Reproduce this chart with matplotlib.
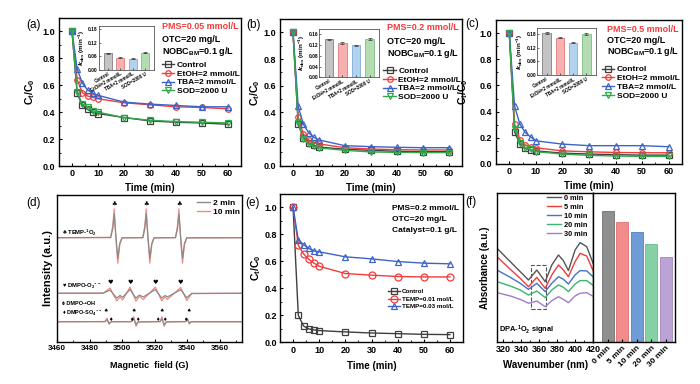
import matplotlib
matplotlib.use("Agg")
import matplotlib.pyplot as plt
from matplotlib.patches import Rectangle
from matplotlib.lines import Line2D
from matplotlib.ticker import MultipleLocator, FormatStrFormatter
import numpy as np

plt.rcParams['font.family'] = ['Liberation Sans', 'DejaVu Sans']
plt.rcParams['font.weight'] = 'bold'
plt.rcParams['axes.labelweight'] = 'bold'
plt.rcParams['mathtext.default'] = 'regular'
plt.rcParams['xtick.direction'] = 'in'
plt.rcParams['ytick.direction'] = 'in'
plt.rcParams['axes.linewidth'] = 1.0

# ---- data: degradation kinetics (a-c, e) ----
time = [0, 2, 4, 6, 8, 10, 20, 30, 40, 50, 60]
series_names = ["Control", "EtOH=2 mmol/L", "TBA=2 mmol/L", "SOD=2000 U"]

a_control = [1.0, 0.54, 0.45, 0.42, 0.40, 0.39, 0.36, 0.335, 0.325, 0.32, 0.31]
a_etoh = [1.0, 0.64, 0.545, 0.52, 0.51, 0.50, 0.47, 0.455, 0.44, 0.435, 0.425]
a_tba = [1.0, 0.72, 0.615, 0.565, 0.54, 0.525, 0.475, 0.46, 0.45, 0.44, 0.44]
a_sod = [1.0, 0.55, 0.46, 0.44, 0.41, 0.40, 0.36, 0.34, 0.33, 0.325, 0.32]

b_control = [1.0, 0.31, 0.21, 0.17, 0.155, 0.14, 0.123, 0.115, 0.108, 0.105, 0.105]
b_etoh = [1.0, 0.365, 0.236, 0.193, 0.173, 0.163, 0.135, 0.125, 0.12, 0.118, 0.118]
b_tba = [1.0, 0.445, 0.31, 0.248, 0.213, 0.193, 0.15, 0.143, 0.138, 0.135, 0.135]
b_sod = [1.0, 0.32, 0.2, 0.163, 0.145, 0.133, 0.115, 0.103, 0.1, 0.098, 0.098]

c_control = [1.0, 0.245, 0.152, 0.12, 0.108, 0.10, 0.083, 0.076, 0.071, 0.068, 0.068]
c_etoh = [1.0, 0.305, 0.187, 0.144, 0.132, 0.124, 0.10, 0.093, 0.088, 0.086, 0.086]
c_tba = [1.0, 0.44, 0.304, 0.241, 0.207, 0.177, 0.152, 0.14, 0.14, 0.14, 0.132]
c_sod = [1.0, 0.27, 0.162, 0.124, 0.111, 0.094, 0.076, 0.066, 0.061, 0.058, 0.058]

kobs_a = [0.073, 0.054, 0.050, 0.076]
kobs_b = [0.142, 0.128, 0.119, 0.142]
kobs_c = [0.182, 0.163, 0.141, 0.180]
kobs_a_err = [0.002, 0.002, 0.002, 0.002]
kobs_b_err = [0.002, 0.002, 0.002, 0.003]
kobs_c_err = [0.003, 0.003, 0.003, 0.004]

e_names = ["Control", "TEMP=0.01 mol/L", "TEMP=0.03 mol/L"]
e_control = [1.0, 0.2, 0.121, 0.099, 0.092, 0.087, 0.077, 0.069, 0.064, 0.059, 0.057]
e_temp1 = [1.0, 0.72, 0.656, 0.616, 0.587, 0.564, 0.51, 0.498, 0.488, 0.485, 0.485]
e_temp3 = [1.0, 0.76, 0.725, 0.696, 0.678, 0.671, 0.634, 0.619, 0.599, 0.587, 0.582]

# ---- data: EPR spectra (d) ----
temp_field = [3460, 3493.0, 3494.3, 3495.2, 3496.3, 3497.4, 3498.6, 3500.0,
              3512.8, 3514.0, 3514.9, 3516.0, 3517.1, 3518.3, 3519.7,
              3532.9, 3534.1, 3535.0, 3536.1, 3537.2, 3538.4, 3539.8, 3574]
temp_10min = [0.709, 0.711, 0.79, 0.905, 0.70, 0.535, 0.66, 0.708,
              0.710, 0.79, 0.905, 0.70, 0.535, 0.66, 0.708,
              0.710, 0.79, 0.905, 0.70, 0.535, 0.66, 0.708, 0.709]
temp_2min = [0.709, 0.710, 0.77, 0.87, 0.705, 0.57, 0.67, 0.708,
             0.709, 0.77, 0.87, 0.705, 0.57, 0.67, 0.708,
             0.709, 0.77, 0.87, 0.705, 0.57, 0.67, 0.708, 0.709]

o2_field = [3460, 3488.5, 3492.6, 3496.7, 3498.8, 3500.4, 3504.9, 3508.6, 3510.6,
            3513.1, 3520.5, 3524.4, 3526.5, 3527.9, 3536.1, 3539.8, 3542.9, 3574]
o2_10min = [0.330, 0.331, 0.366, 0.278, 0.305, 0.285, 0.372, 0.276, 0.310,
            0.288, 0.372, 0.278, 0.305, 0.288, 0.370, 0.280, 0.328, 0.330]
o2_2min = [0.330, 0.331, 0.352, 0.298, 0.315, 0.303, 0.356, 0.297, 0.318,
           0.305, 0.355, 0.298, 0.315, 0.305, 0.354, 0.300, 0.329, 0.330]

oh_field = [3460, 3489.5, 3490.8, 3492.0, 3493.2, 3505.8, 3507.2, 3508.6, 3510.0,
            3523.4, 3524.6, 3525.9, 3527.2, 3539.2, 3540.3, 3541.4, 3542.5, 3574]
oh_10min = [0.136, 0.137, 0.16, 0.118, 0.136, 0.137, 0.17, 0.105, 0.135,
            0.137, 0.17, 0.105, 0.135, 0.137, 0.158, 0.12, 0.136, 0.136]
oh_2min = [0.136, 0.137, 0.15, 0.125, 0.136, 0.137, 0.156, 0.118, 0.135,
           0.137, 0.157, 0.117, 0.135, 0.137, 0.15, 0.127, 0.136, 0.136]

temp_marks = [3495.1, 3515.0, 3535.0]
o2_marks = [3492.6, 3504.9, 3520.5, 3536.1]
oh_marks = [3489.7, 3507.0, 3524.0, 3541.2]
so4_marks = [3492.6, 3506.0, 3509.4, 3521.7, 3526.0, 3539.2]

# ---- data: UV-vis (f) ----
wavelength = [313, 327.8, 338.9, 348.1, 357.4, 366.7, 374.1, 381.5, 387.0, 392.6, 400.0, 405.6, 413.0, 420]
abs_0 = [0.629, 0.539, 0.472, 0.416, 0.483, 0.405, 0.517, 0.584, 0.546, 0.479, 0.617, 0.667, 0.640, 0.530]
abs_5 = [0.573, 0.488, 0.427, 0.371, 0.434, 0.360, 0.450, 0.517, 0.483, 0.438, 0.539, 0.595, 0.577, 0.480]
abs_10 = [0.483, 0.434, 0.394, 0.353, 0.394, 0.338, 0.394, 0.438, 0.421, 0.389, 0.450, 0.479, 0.477, 0.438]
abs_20 = [0.405, 0.376, 0.349, 0.315, 0.342, 0.298, 0.349, 0.383, 0.367, 0.338, 0.389, 0.412, 0.412, 0.380]
abs_30 = [0.331, 0.309, 0.286, 0.260, 0.275, 0.237, 0.277, 0.304, 0.286, 0.264, 0.309, 0.327, 0.331, 0.307]
f_times = ["0 min", "5 min", "10 min", "20 min", "30 min"]
peak_abs = [0.881, 0.807, 0.738, 0.658, 0.573]

kin_colors = ['#3f3f3f', '#f23c3c', '#3c64c8', '#2eaa4a']
kin_markers = ['s', 'o', '^', 'v']
inset_fill = ['#c4c4c4', '#f6b0b0', '#b3d2ee', '#b3dcb3']
inset_edge = ['#808080', '#e07a7a', '#80aad6', '#80bb80']
f_colors = ['#555555', '#f23c3c', '#4472c4', '#3cb371', '#a07cc8']
f_bar_colors = ['#8f8f8f', '#f28b8b', '#6f9bd6', '#86d0a6', '#bba3d6']

fig = plt.figure(figsize=(7, 3.84), dpi=100)


def px_rect(x0, y0, x1, y1):
    return [x0 / 700, 1 - y1 / 384, (x1 - x0) / 700, (y1 - y0) / 384]


def kinetics_panel(rect, curves, names, colors, markers, ms):
    ax = fig.add_axes(rect)
    for y, c, m, lab in zip(curves, colors, markers, names):
        ax.plot(time, y, color=c, marker=m, ms=ms, mfc='none', mew=0.9, lw=1.0, label=lab)
    ax.set_xlim(-5, 65)
    ax.set_ylim(0, 1.1)
    ax.set_xticks([0, 10, 20, 30, 40, 50, 60])
    ax.set_yticks([0, 0.2, 0.4, 0.6, 0.8, 1.0])
    ax.xaxis.set_minor_locator(MultipleLocator(5))
    ax.yaxis.set_minor_locator(MultipleLocator(0.1))
    ax.tick_params(labelsize=6.5, length=2.5, width=0.8, pad=2.5)
    ax.tick_params(which='minor', length=1.5, width=0.6)
    ax.set_xlabel('Time (min)', fontsize=7, va='top')
    ax.set_ylabel('C$_t$/C$_0$', fontsize=7.5)
    return ax


def kobs_inset(rect, values, errors, top, yticks):
    ax = fig.add_axes(rect)
    x = np.arange(len(values))
    ax.bar(x, values, width=0.62, color=inset_fill, edgecolor=inset_edge, lw=0.6,
           yerr=errors, error_kw=dict(elinewidth=0.5, capsize=1.2, capthick=0.5, ecolor='#333333'))
    ax.set_xlim(-0.7, 3.7)
    ax.set_ylim(0, top)
    ax.set_yticks(yticks)
    ax.yaxis.set_major_formatter(FormatStrFormatter('%.2f'))
    ax.set_xticks(x)
    ax.set_xticklabels(series_names, rotation=30, ha='right', rotation_mode='anchor', fontsize=3.3)
    ax.tick_params(axis='y', labelsize=3.5, length=1.2, width=0.4, pad=1)
    ax.tick_params(axis='x', length=1.2, width=0.4, pad=1)
    for s in ax.spines.values():
        s.set_linewidth(0.6)
        s.set_color('#555555')
    ax.set_ylabel(r'$\mathit{k}_{obs}$ (min$^{-1}$)', fontsize=4.5, labelpad=1)
    return ax


def note(ax, x, ys, lines, colors, fs):
    for y, t, c in zip(ys, lines, colors):
        ax.text(x, y, t, transform=ax.transAxes, fontsize=fs, color=c, ha='left', va='center')


# (a)
ax_a = kinetics_panel(px_rect(59, 18, 241, 166), [a_control, a_etoh, a_tba, a_sod],
                      series_names, kin_colors, kin_markers, 4)
ax_a.yaxis.set_label_coords(-0.123, 0.5)
ax_a.xaxis.set_label_coords(0.5, -0.115)
note(ax_a, 0.564, [0.941, 0.856, 0.772], ['PMS=0.05 mmol/L', 'OTC=20 mg/L', 'NOBC$_{BM}$=0.1 g/L'],
     ['#f23c3c', 'black', 'black'], 6.5)
ax_a.legend(loc='upper left', bbox_to_anchor=(0.564, 0.71), frameon=False, fontsize=6,
            handlelength=1.5, handletextpad=0.3, labelspacing=0.12, borderpad=0, borderaxespad=0)
kobs_inset(px_rect(99, 25.7, 154, 70), kobs_a, kobs_a_err, 0.195, [0, 0.06, 0.12, 0.18])

# (b)
ax_b = kinetics_panel(px_rect(280, 19, 462, 165.7), [b_control, b_etoh, b_tba, b_sod],
                      series_names, kin_colors, kin_markers, 4)
ax_b.yaxis.set_label_coords(-0.1, 0.5)
ax_b.xaxis.set_label_coords(0.5, -0.12)
note(ax_b, 0.586, [0.941, 0.845, 0.766], ['PMS=0.2 mmol/L', 'OTC=20 mg/L', 'NOBC$_{BM}$=0.1 g/L'],
     ['#f23c3c', 'black', 'black'], 6.5)
ax_b.legend(loc='upper left', bbox_to_anchor=(0.568, 0.673), frameon=False, fontsize=6,
            handlelength=1.5, handletextpad=0.3, labelspacing=0.12, borderpad=0, borderaxespad=0)
kobs_inset(px_rect(319.3, 29.3, 379, 77.3), kobs_b, kobs_b_err, 0.179, [0, 0.04, 0.08, 0.12, 0.16])

# (c)
ax_c = kinetics_panel(px_rect(496, 20, 682, 164), [c_control, c_etoh, c_tba, c_sod],
                      series_names, kin_colors, kin_markers, 4)
ax_c.yaxis.set_label_coords(-0.14, 0.5)
ax_c.xaxis.set_label_coords(0.5, -0.115)
note(ax_c, 0.595, [0.935, 0.861, 0.78], ['PMS=0.5 mmol/L', 'OTC=20 mg/L', 'NOBC$_{BM}$=0.1 g/L'],
     ['#f23c3c', 'black', 'black'], 6.5)
ax_c.legend(loc='upper left', bbox_to_anchor=(0.568, 0.683), frameon=False, fontsize=6,
            handlelength=1.5, handletextpad=0.3, labelspacing=0.12, borderpad=0, borderaxespad=0)
kobs_inset(px_rect(537.3, 28.3, 595.7, 75.3), kobs_c, kobs_c_err, 0.203, [0, 0.06, 0.12, 0.18])

# (d) EPR
ax_d = fig.add_axes(px_rect(57, 195, 242, 341.7))
red_d, grey_d = '#f08a85', '#8a8a8a'
for fld, y10, y2 in [(temp_field, temp_10min, temp_2min), (o2_field, o2_10min, o2_2min),
                     (oh_field, oh_10min, oh_2min)]:
    ax_d.plot(fld, y10, color=red_d, lw=0.9)
    ax_d.plot(fld, y2, color=grey_d, lw=0.9)
ax_d.set_xlim(3460, 3573.8)
ax_d.set_ylim(0, 1)
ax_d.set_xticks([3460, 3480, 3500, 3520, 3540, 3560])
ax_d.xaxis.set_minor_locator(MultipleLocator(10))
ax_d.set_yticks([])
ax_d.tick_params(labelsize=5.8, length=2.5, width=0.8, pad=2.5)
ax_d.tick_params(which='minor', length=1.5, width=0.6)
ax_d.set_xlabel('Magnetic  field (G)', fontsize=6.5, va='top')
ax_d.xaxis.set_label_coords(0.5, -0.13)
ax_d.set_ylabel('Intensity (a.u.)', fontsize=8)
ax_d.yaxis.set_label_coords(-0.02, 0.5)
sym_font = ['DejaVu Sans']
for g in temp_marks:
    ax_d.text(g, 0.93, '\u2663', fontsize=4.5, ha='center', va='center', family=sym_font)
for g in o2_marks:
    ax_d.text(g, 0.405, '\u2665', fontsize=4.5, ha='center', va='center', family=sym_font)
for g in oh_marks:
    ax_d.text(g, 0.21, '\u2660', fontsize=3.6, ha='center', va='center', family=sym_font)
for g in so4_marks:
    ax_d.text(g, 0.15, '\u2666', fontsize=3.6, ha='center', va='center', family=sym_font)
label_font = ['Liberation Sans', 'DejaVu Sans']
ax_d.text(3462.9, 0.745, '\u2663 TEMP-$^{1}$O$_{2}$', fontsize=4.2, ha='left', va='center',
          family=label_font)
ax_d.text(3462.9, 0.38, '\u2665 DMPO-O$_{2}$$^{\u2022-}$', fontsize=4.2, ha='left', va='center',
          family=label_font)
ax_d.text(3462.9, 0.262, '\u2660 DMPO-\u2022OH', fontsize=4.0, ha='left', va='center',
          family=label_font)
ax_d.text(3462.9, 0.196, '\u2666 DMPO-SO$_{4}$$^{\u2022-}$', fontsize=4.0, ha='left', va='center',
          family=label_font)
d_handles = [Line2D([], [], color=grey_d, lw=1.0), Line2D([], [], color=red_d, lw=1.0)]
ax_d.legend(d_handles, ['2 min', '10 min'], loc='upper left', bbox_to_anchor=(0.755, 0.969),
            frameon=False, fontsize=6, handlelength=1.6, handletextpad=0.4, labelspacing=0.05,
            borderpad=0, borderaxespad=0)

# (e)
ax_e = kinetics_panel(px_rect(280, 194, 463, 342.3), [e_control, e_temp1, e_temp3],
                      e_names, kin_colors[:3], kin_markers[:3], 5)
ax_e.tick_params(axis='y', pad=2)
ax_e.yaxis.set_label_coords(-0.092, 0.5)
ax_e.xaxis.set_label_coords(0.5, -0.124)
note(ax_e, 0.614, [0.904, 0.829, 0.757], ['PMS=0.2 mmol/L', 'OTC=20 mg/L', 'Catalyst=0.1 g/L'],
     ['black', 'black', 'black'], 6)
ax_e.legend(loc='upper left', bbox_to_anchor=(0.592, 0.36), frameon=False, fontsize=4.5,
            handlelength=1.9, handletextpad=0.3, labelspacing=0.35, borderpad=0, borderaxespad=0)

# (f) spectra
ax_f = fig.add_axes(px_rect(497, 193, 593, 342))
for y, c, lab in zip([abs_0, abs_5, abs_10, abs_20, abs_30], f_colors, f_times):
    ax_f.plot(wavelength, y, color=c, lw=1.0, label=lab)
ax_f.add_patch(Rectangle((351, 0.219), 17, 0.298, fill=False, ls='--', ec='#555555', lw=0.8))
ax_f.set_xlim(313, 420)
ax_f.set_ylim(0, 1)
ax_f.set_xticks([320, 340, 360, 380, 400, 420])
ax_f.xaxis.set_minor_locator(MultipleLocator(10))
ax_f.set_yticks([])
ax_f.tick_params(labelsize=6.5, length=2.5, width=0.8, pad=2.5)
ax_f.tick_params(which='minor', length=1.5, width=0.6)
ax_f.set_xlabel('Wavenumber (nm)', fontsize=7, va='top')
ax_f.xaxis.set_label_coords(0.508, -0.121)
ax_f.set_ylabel('Absorbance (a.u.)', fontsize=7)
ax_f.yaxis.set_label_coords(-0.073, 0.5)
ax_f.text(0.02, 0.08, 'DPA-$^{1}$O$_{2}$ signal', transform=ax_f.transAxes, fontsize=5.3,
          ha='left', va='center')
ax_f.legend(loc='upper left', bbox_to_anchor=(0.518, 0.988), frameon=False, fontsize=5.3,
            handlelength=2.0, handletextpad=0.4, labelspacing=0.25, borderpad=0, borderaxespad=0)

# (f) bars
ax_g = fig.add_axes(px_rect(593, 193, 675, 342))
xb = np.arange(len(peak_abs))
ax_g.bar(xb, peak_abs, width=0.83, color=f_bar_colors,
         edgecolor=['#707070', '#e07070', '#5580c0', '#6cb88c', '#9e86c0'], lw=0.6)
ax_g.set_xlim(-1.0, 4.62)
ax_g.set_ylim(0, 1)
ax_g.set_yticks([])
ax_g.set_xticks(xb)
ax_g.set_xticklabels(f_times, rotation=45, ha='right', va='top', rotation_mode='anchor')
ax_g.tick_params(labelsize=6, length=2.5, width=0.8, pad=2)

# panel letters
for lab, x, y in [('(a)', 26.7, 25), ('(b)', 246.7, 25), ('(c)', 465, 24),
                  ('(d)', 26, 202.7), ('(e)', 245, 203.3), ('(f)', 465, 202)]:
    fig.text(x / 700, 1 - y / 384, lab, fontsize=8.5, fontweight='normal', ha='left', va='center')

fig.savefig('out.png', dpi=100)
